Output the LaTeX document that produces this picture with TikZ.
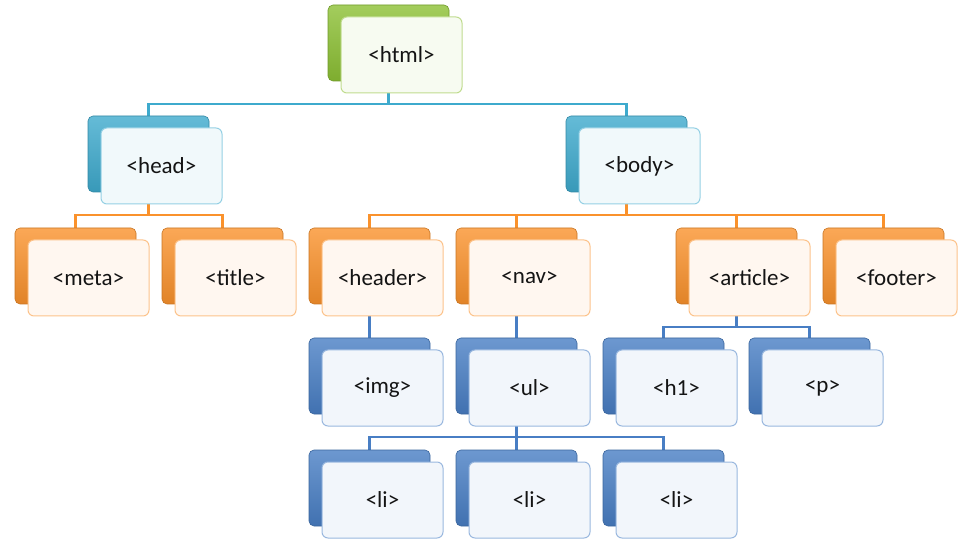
\documentclass[tikz,border=0pt]{standalone}
\usepackage{fontspec}
\setmainfont{Carlito}
\usepackage{tikz}
\usetikzlibrary{positioning,calc,backgrounds}
\definecolor{tgreen}{RGB}{140,192,52}
\definecolor{tcyan}{RGB}{62,170,205}
\definecolor{torange}{RGB}{250,146,44}
\definecolor{tblue}{RGB}{72,126,196}
\definecolor{ink}{RGB}{20,20,20}

\begin{document}
\begin{tikzpicture}[x=1pt,y=-1pt,
  backbox/.style={rounded corners=5pt,draw=#1!80!black,line width=0.6pt,
    top color=#1!80,middle color=#1,bottom color=#1!90!black,
    minimum width=121pt,minimum height=76pt,inner sep=0pt},
  frontbox/.style={rounded corners=6pt,draw=#1!55,line width=1pt,fill=#1!7,
    minimum width=121pt,minimum height=76pt,inner sep=0pt,
    text=ink,font=\fontsize{23}{27}\selectfont},
  link/.style={draw=#1,line width=2.4pt}]
\useasboundingbox (0,0) rectangle (975,545);
% bus levels
\coordinate (lvl1) at (0,104);
\coordinate (lvl2) at (0,215);
\coordinate (lvl3) at (0,327);
\coordinate (lvl4) at (0,437);
% boxes
\foreach \n/\x/\y/\c/\t in {html/388.5/43/tgreen/<html>,
    head/148.5/154/tcyan/<head>, body/626.5/154/tcyan/<body>,
    meta/75.5/266/torange/<meta>, title/222.5/266/torange/<title>,
    header/369.5/266/torange/<header>, nav/516.5/266/torange/<nav>,
    article/736.5/266/torange/<article>, footer/883.5/266/torange/<footer>,
    img/369.5/376/tblue/<img>, ul/516.5/376/tblue/<ul>,
    h1/663.5/376/tblue/<h1>, p/809.5/376/tblue/<p>,
    lia/369.5/488/tblue/<li>, lib/516.5/488/tblue/<li>, lic/663.5/488/tblue/<li>}
{
  \node[backbox=\c] (\n-b) at (\x,\y) {};
  \node[frontbox=\c] (\n) at ($(\n-b)+(13,12)$) {\t};
}
% connectors
\begin{pgfonlayer}{background}
\foreach \p/\k/\c/\l in {html/head/tcyan/lvl1, html/body/tcyan/lvl1,
    head/meta/torange/lvl2, head/title/torange/lvl2,
    body/header/torange/lvl2, body/nav/torange/lvl2,
    body/article/torange/lvl2, body/footer/torange/lvl2,
    header/img/tblue/lvl3, nav/ul/tblue/lvl3,
    article/h1/tblue/lvl3, article/p/tblue/lvl3,
    ul/lia/tblue/lvl4, ul/lib/tblue/lvl4, ul/lic/tblue/lvl4}
  \draw[link=\c] (\p-b.center) -- (\p-b.center |- \l) -| (\k-b.center);
\end{pgfonlayer}
\end{tikzpicture}
\end{document}
